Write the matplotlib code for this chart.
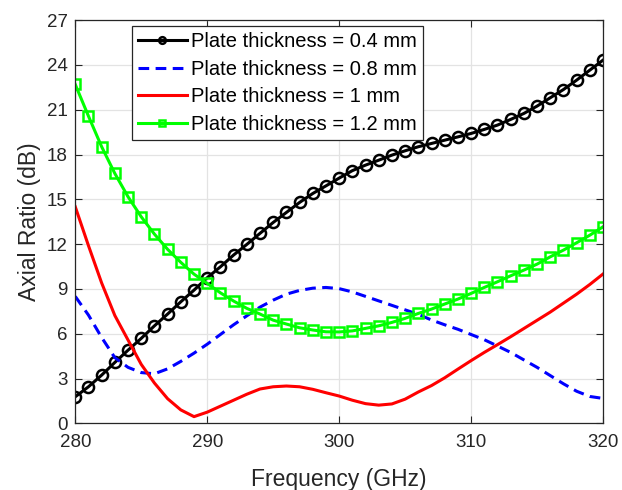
import numpy as np
import matplotlib
matplotlib.use("Agg")
import matplotlib.pyplot as plt

plt.rcParams['font.family'] = ['Liberation Sans', 'DejaVu Sans']

# frequency points (GHz)
freq = list(range(280, 321))

# axial ratio (dB)
ar_04 = [1.78, 2.45, 3.23, 4.08, 4.90, 5.69, 6.53, 7.32, 8.14, 8.92,
         9.75, 10.48, 11.27, 11.98, 12.72, 13.45, 14.12, 14.79, 15.39, 15.90,
         16.42, 16.92, 17.29, 17.62, 17.96, 18.25, 18.52, 18.74, 18.96, 19.18,
         19.41, 19.68, 19.97, 20.35, 20.75, 21.24, 21.80, 22.35, 22.98, 23.65,
         24.32]
ar_08 = [8.50, 7.25, 5.75, 4.40, 3.75, 3.40, 3.32, 3.65, 4.15, 4.70,
         5.30, 5.95, 6.60, 7.20, 7.78, 8.25, 8.65, 8.90, 9.05, 9.10,
         9.02, 8.80, 8.50, 8.20, 7.90, 7.60, 7.30, 6.92, 6.60, 6.30,
         5.95, 5.60, 5.18, 4.75, 4.25, 3.75, 3.20, 2.65, 2.15, 1.80,
         1.67]
ar_10 = [14.50, 11.90, 9.40, 7.22, 5.58, 3.95, 2.70, 1.65, 0.90, 0.45,
         0.75, 1.15, 1.55, 1.95, 2.30, 2.45, 2.50, 2.45, 2.28, 2.05,
         1.83, 1.55, 1.32, 1.22, 1.30, 1.62, 2.10, 2.53, 3.05, 3.63,
         4.20, 4.75, 5.27, 5.80, 6.35, 6.90, 7.45, 8.05, 8.65, 9.30,
         10.00]
ar_12 = [22.69, 20.57, 18.52, 16.73, 15.17, 13.83, 12.67, 11.65, 10.78, 9.99,
         9.37, 8.74, 8.19, 7.70, 7.32, 6.91, 6.65, 6.40, 6.25, 6.13,
         6.12, 6.19, 6.36, 6.53, 6.76, 7.03, 7.36, 7.65, 7.99, 8.32,
         8.70, 9.10, 9.48, 9.88, 10.26, 10.66, 11.15, 11.60, 12.09, 12.60,
         13.16]

labels = ['Plate thickness = 0.4 mm', 'Plate thickness = 0.8 mm',
          'Plate thickness = 1 mm', 'Plate thickness = 1.2 mm']

fig = plt.figure(figsize=(6.22, 4.9), dpi=100)
ax = fig.add_axes([0.121, 0.136, 0.8485, 0.823])

lw = 2.2
ax.plot(freq, ar_04, color='k', lw=lw, marker='o', ms=8, mfc='none', mew=1.8, label=labels[0])
ax.plot(freq, ar_08, color='b', lw=lw, ls=(0, (3.5, 2.1)), label=labels[1])
ax.plot(freq, ar_10, color='r', lw=lw, label=labels[2])
ax.plot(freq, ar_12, color='#00ff00', lw=lw, marker='s', ms=7, mfc='none', mew=1.8, label=labels[3])

ax.set_xlim(280, 320)
ax.set_ylim(0, 27)
ax.set_xticks(np.arange(280, 321, 10))
ax.set_yticks(np.arange(0, 28, 3))
ax.grid(True, color='#e3e3e3', lw=0.9)
ax.set_axisbelow(True)
ax.tick_params(direction='in', top=True, right=True, length=5, width=0.8,
               labelsize=13.5, colors='#262626')
ax.tick_params(axis='x', pad=8)
ax.tick_params(axis='y', pad=5.5)
for s in ax.spines.values():
    s.set_color('#262626')
    s.set_linewidth(0.9)

ax.set_xlabel('Frequency (GHz)', fontsize=16.5, color='#262626', labelpad=12)
ax.set_ylabel('Axial Ratio (dB)', fontsize=16.5, color='#262626', labelpad=4)

leg = ax.legend(loc='upper left', bbox_to_anchor=(0.108, 0.985), borderaxespad=0,
                fontsize=14.5, handlelength=2.4, handletextpad=0.2, labelspacing=0.42,
                borderpad=0.3, fancybox=False, framealpha=1, edgecolor='#262626',
                markerscale=0.6)
leg.get_frame().set_linewidth(0.9)

fig.savefig('out.png', dpi=100)
